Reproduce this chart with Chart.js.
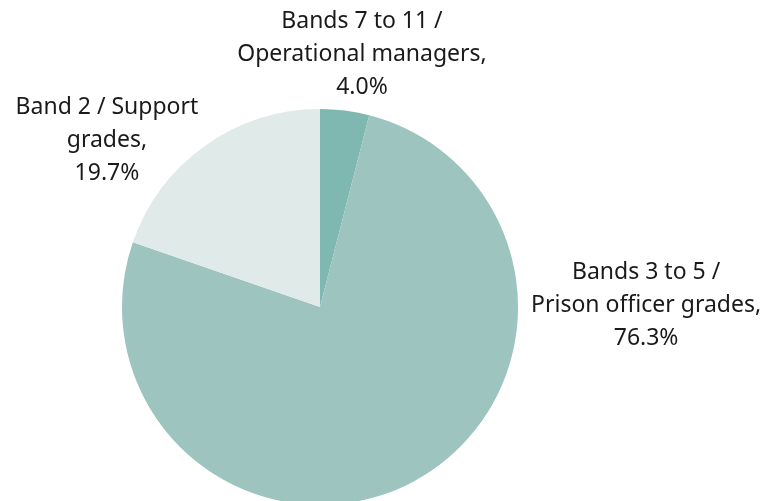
<!DOCTYPE html>
<html>
<head>
<meta charset="utf-8">
<script src="https://cdn.jsdelivr.net/npm/chart.js@4"></script>
<style>
  html, body { margin: 0; padding: 0; background: #fff; overflow: hidden; }
  #wrap { width: 772px; height: 520px; position: relative; }
</style>
</head>
<body>
<div id="wrap"><canvas id="pie"></canvas></div>
<script>
'use strict';

var categories = [
    ['Bands 7 to 11 /', 'Operational managers,'],
    ['Bands 3 to 5 /', 'Prison officer grades,'],
    ['Band 2 / Support', 'grades,']
];
var shares = [4.0, 76.3, 19.7];
var sliceColours = ['#7fb7b1', '#9dc4bf', '#e0eae9'];

// label block centres, in radius units from the pie centre
var labelOffsets = [[0.212, -1.273], [1.647, -0.01], [-1.076, -0.843]];

var outsideLabels = {
    id: 'outsideLabels',
    afterDraw: function (chart) {
        var ctx = chart.ctx;
        var arcs = chart.getDatasetMeta(0).data;
        ctx.save();
        ctx.font = '23px "Noto Sans", sans-serif';
        ctx.fillStyle = '#1a1a1a';
        ctx.textAlign = 'center';
        ctx.textBaseline = 'middle';
        arcs.forEach(function (arc, i) {
            var r = arc.outerRadius;
            var cx = arc.x + labelOffsets[i][0] * r;
            var cy = arc.y + labelOffsets[i][1] * r;
            var lines = categories[i].concat([shares[i].toFixed(1) + '%']);
            var lh = 33;
            var top = cy - (lines.length - 1) * lh / 2;
            lines.forEach(function (t, k) {
                ctx.fillText(t, cx, top + k * lh);
            });
        });
        ctx.restore();
    }
};

new Chart(document.getElementById('pie'), {
    type: 'pie',
    data: {
        labels: categories.map(function (c) { return c.join(' '); }),
        datasets: [{
            data: shares,
            backgroundColor: sliceColours,
            borderWidth: 0
        }]
    },
    options: {
        responsive: true,
        maintainAspectRatio: false,
        animation: false,
        layout: { padding: { left: 122, right: 254, top: 109, bottom: 15 } },
        plugins: {
            legend: { display: false },
            tooltip: { enabled: false }
        }
    },
    plugins: [outsideLabels]
});
</script>
</body>
</html>
